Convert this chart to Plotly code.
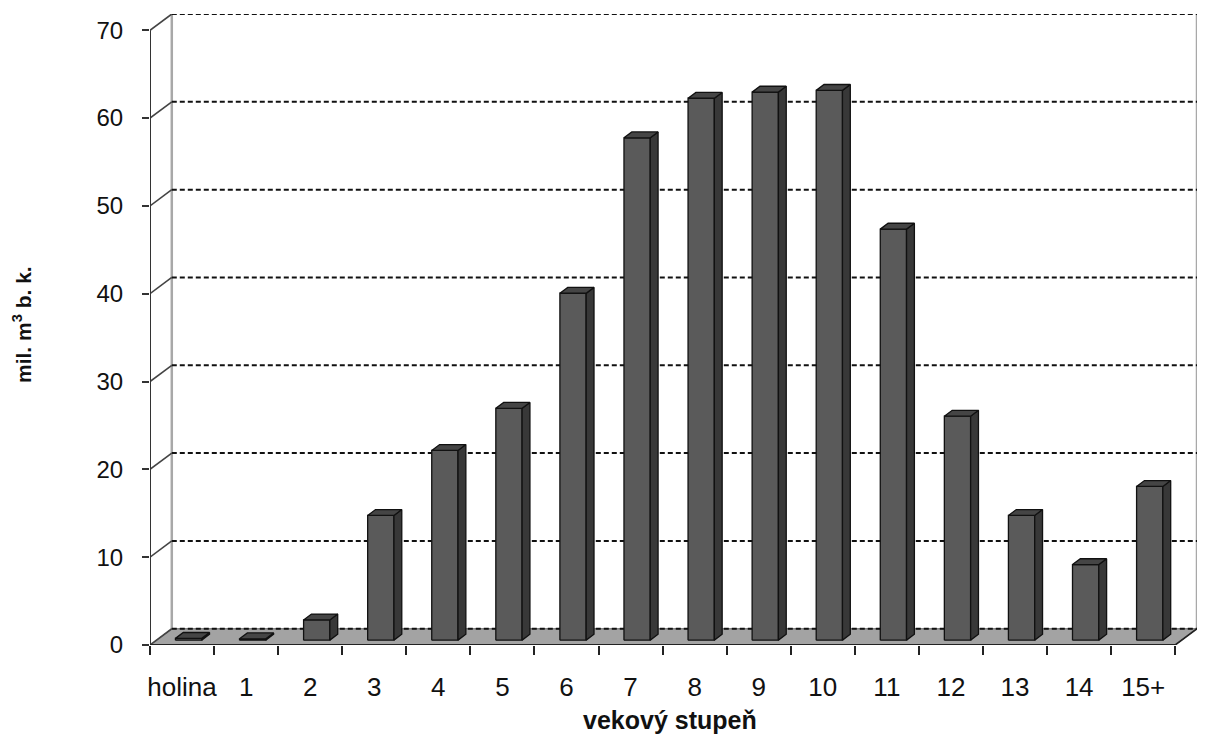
import plotly.graph_objects as go

# ---- data ----
categories = ["holina", "1", "2", "3", "4", "5", "6", "7", "8", "9", "10", "11", "12", "13", "14", "15+"]
values = [0.2, 0.15, 2.3, 14.2, 21.6, 26.4, 39.5, 57.2, 61.7, 62.4, 62.6, 46.8, 25.5, 14.2, 8.6, 17.5]
y_ticks = [0, 10, 20, 30, 40, 50, 60, 70]

# ---- 3D geometry (in data units) ----
N = len(categories)
DX = 0.34      # depth offset along x (category units)
DY = 1.85      # depth offset along y (value units)
YMAX = 70
W = 0.41       # bar width
F1, F2 = 0.30, 0.66   # bar front / back depth fractions

FONT = "Liberation Sans, Arial, sans-serif"

fig = go.Figure()

def line(xs, ys, color, width, dash="solid"):
    fig.add_trace(go.Scatter(x=xs, y=ys, mode="lines", hoverinfo="skip",
                             line=dict(color=color, width=width, dash=dash),
                             showlegend=False))

# back wall edges
line([DX, DX], [DY, YMAX + DY], "#a8a8a8", 2.5)
line([N + DX, N + DX], [DY, YMAX + DY], "#a8a8a8", 2.5)

# floor
fig.add_trace(go.Scatter(x=[0, N, N + DX, DX, 0], y=[0, 0, DY, DY, 0], mode="lines",
                         fill="toself", fillcolor="#a3a3a3",
                         line=dict(color="#666666", width=1), hoverinfo="skip",
                         showlegend=False))

# gridlines on back wall + left wall diagonals
gx, gy, dxs, dys = [], [], [], []
for v in y_ticks:
    gx += [DX, N + DX, None]
    gy += [v + DY, v + DY, None]
    dxs += [0, DX, None]
    dys += [v, v + DY, None]
line(gx, gy, "#111111", 2, "5px,3px")
line(dxs, dys, "#444444", 1.6)

# front axes
line([0, 0], [0, YMAX], "#333333", 2)
line([0, N], [0, 0], "#222222", 2.2)
line([N, N + DX], [0, DY], "#222222", 1.6)

# bars
fx, fy, sx, sy, tx, ty = [], [], [], [], [], []
for i, v in enumerate(values):
    x0 = i + (1 - W) / 2
    x1 = x0 + W
    a, b = F1 * DX, F1 * DY
    c, d = F2 * DX, F2 * DY
    fx += [x0 + a, x1 + a, x1 + a, x0 + a, x0 + a, None]
    fy += [b, b, v + b, v + b, b, None]
    sx += [x1 + a, x1 + c, x1 + c, x1 + a, x1 + a, None]
    sy += [b, d, v + d, v + b, b, None]
    tx += [x0 + a, x1 + a, x1 + c, x0 + c, x0 + a, None]
    ty += [v + b, v + b, v + d, v + d, v + b, None]

for xs, ys, col in [(fx, fy, "#5a5a5a"), (sx, sy, "#383838"), (tx, ty, "#454545")]:
    fig.add_trace(go.Scatter(x=xs, y=ys, mode="lines", fill="toself", fillcolor=col,
                             line=dict(color="#111111", width=1.3), hoverinfo="skip",
                             showlegend=False))

fig.update_layout(
    width=1205, height=729,
    margin=dict(l=142, r=16, t=6, b=92),
    paper_bgcolor="white", plot_bgcolor="white",
    font=dict(family=FONT, color="#111111"),
    xaxis=dict(range=[0, N + DX], showgrid=False, zeroline=False, showline=False,
               automargin=False,
               tickmode="array", tickvals=[i + 0.5 for i in range(N)], ticktext=categories,
               ticks="", tickfont=dict(size=26, family=FONT, color="#111111"),
               ticklabelstandoff=24,
               minor=dict(tickmode="array", tickvals=list(range(N + 1)), ticks="outside",
                          ticklen=9, tickwidth=2, tickcolor="#222222", showgrid=False)),
    yaxis=dict(range=[0, YMAX + DY], showgrid=False, zeroline=False, showline=False,
               automargin=False,
               tickmode="array", tickvals=y_ticks, ticks="outside", ticklen=7,
               tickwidth=2, tickcolor="#333333",
               tickfont=dict(size=24, family=FONT, color="#111111"),
               ticklabelstandoff=14),
    annotations=[
        dict(text="<b>vekový stupeň</b>", xref="paper", yref="paper",
             x=(670 - 150) / 1047, y=(645 - 720) / 631, showarrow=False,
             font=dict(size=25, family=FONT, color="#111111"), xanchor="center", yanchor="middle"),
        dict(text="<b>mil. m<sup>3</sup> b. k.</b>", xref="paper", yref="paper",
             x=(22 - 150) / 1047, y=(645 - 325) / 631, showarrow=False, textangle=-90,
             font=dict(size=21, family=FONT, color="#111111"), xanchor="center", yanchor="middle"),
    ],
)

fig.write_html("out.html")
